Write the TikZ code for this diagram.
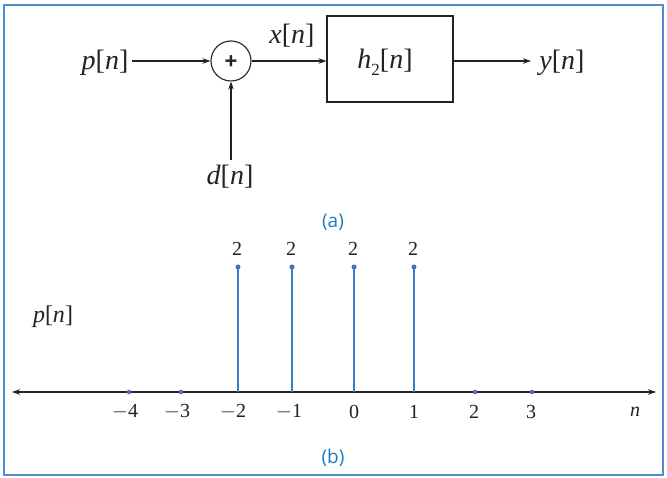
\documentclass[tikz,border=0pt]{standalone}
\usepackage{fontspec}
\setmainfont{Liberation Serif}
\newfontfamily\capfont{Open Sans}
\newfontfamily\plusfont{Liberation Sans}
\usetikzlibrary{arrows.meta}
\definecolor{framebl}{HTML}{4A8FD0}
\definecolor{stembl}{HTML}{3A7CC8}
\definecolor{dotbl}{HTML}{5566B8}
\definecolor{capbl}{HTML}{1E7BC0}
\definecolor{ink}{HTML}{222222}
\tikzset{
  sig/.style={font=\fontsize{28}{28}\selectfont, text=ink, inner sep=0pt},
  ax/.style={font=\fontsize{20}{20}\selectfont, text=ink, inner sep=0pt},
  captext/.style={font=\capfont\fontsize{19}{19}\selectfont, text=capbl, inner sep=0pt},
  wire/.style={draw=ink, line width=1.1pt, -{Stealth[length=8pt,width=5.5pt]}},
  stemline/.style={draw=stembl, line width=2pt},
  sdot/.style={circle, fill=dotbl, inner sep=0pt, minimum size=5pt},
}
\begin{document}
\begin{tikzpicture}[x=1pt,y=-1pt]
\useasboundingbox (0,0) rectangle (667,478);
\draw[framebl, line width=1.4pt] (4,5) rectangle (663,475);
% (a) block diagram
\node[sig] (p) at (105,63) {\textit{p}[\textit{n}]};
\node[circle, draw=ink, line width=1.1pt, minimum size=40pt, inner sep=0pt] (sum) at (231,61) {};
\node[font=\plusfont\bfseries\fontsize{22}{22}\selectfont, text=ink, inner sep=0pt] at ([yshift=-1pt]sum.center) {+};
\node[sig] (d) at (230,177) {\textit{d}[\textit{n}]};
\node[draw=ink, line width=1.1pt, minimum width=126pt, minimum height=86pt, inner sep=0pt] (h) at (390,59) {};
\node[sig] (hl) at (385,62) {\textit{h}\raisebox{-0.25em}{\fontsize{17}{17}\selectfont 2}[\textit{n}]};
\node[sig] (x) at (292,36) {\textit{x}[\textit{n}]};
\node[sig] (y) at (562,63) {\textit{y}[\textit{n}]};
\coordinate (pe) at (132,61);
\coordinate (de) at (231,160);
\coordinate (ye) at (531,61);
\draw[wire] (pe) -- (sum.west);
\draw[wire] (de) -- (sum.south);
\draw[wire] (sum.east) -- (h.west |- sum.east);
\draw[wire] (h.east |- ye) -- (ye);
\node[captext] (ca) at (333,222) {(a)};
% (b) stem plot
\node[sig, font=\fontsize{24}{24}\selectfont] (pl) at (53,317) {\textit{p}[\textit{n}]};
\coordinate (axl) at (12,392);
\coordinate (axr) at (656,392);
\draw[draw=ink, line width=1.1pt, {Stealth[length=8pt,width=5.5pt]}-{Stealth[length=8pt,width=5.5pt]}] (axl) -- (axr);
\foreach \xx/\nm in {238/a,292/b,354/c,414/d}{
  \coordinate (b\nm) at (\xx,392);
  \node[sdot] (t\nm) at (\xx,267) {};
  \draw[stemline] (b\nm) -- (t\nm.center);
  \node[ax] at (\xx-1,249) {2};
}
\foreach \xx/\nm in {129/e,181/f,475/g,532/h}{
  \node[sdot, minimum size=4.5pt] (z\nm) at (\xx,392) {};
}
\node[ax] at (125,412) {$-$4};
\node[ax] at (177,412) {$-$3};
\node[ax] at (233,412) {$-$2};
\node[ax] at (289,412) {$-$1};
\node[ax] at (354,412) {0};
\node[ax] at (414,412) {1};
\node[ax] at (474,412) {2};
\node[ax] at (531,412) {3};
\node[ax] at (635,412) {\textit{n}};
\node[captext] (cb) at (333,458) {(b)};
\end{tikzpicture}
\end{document}
